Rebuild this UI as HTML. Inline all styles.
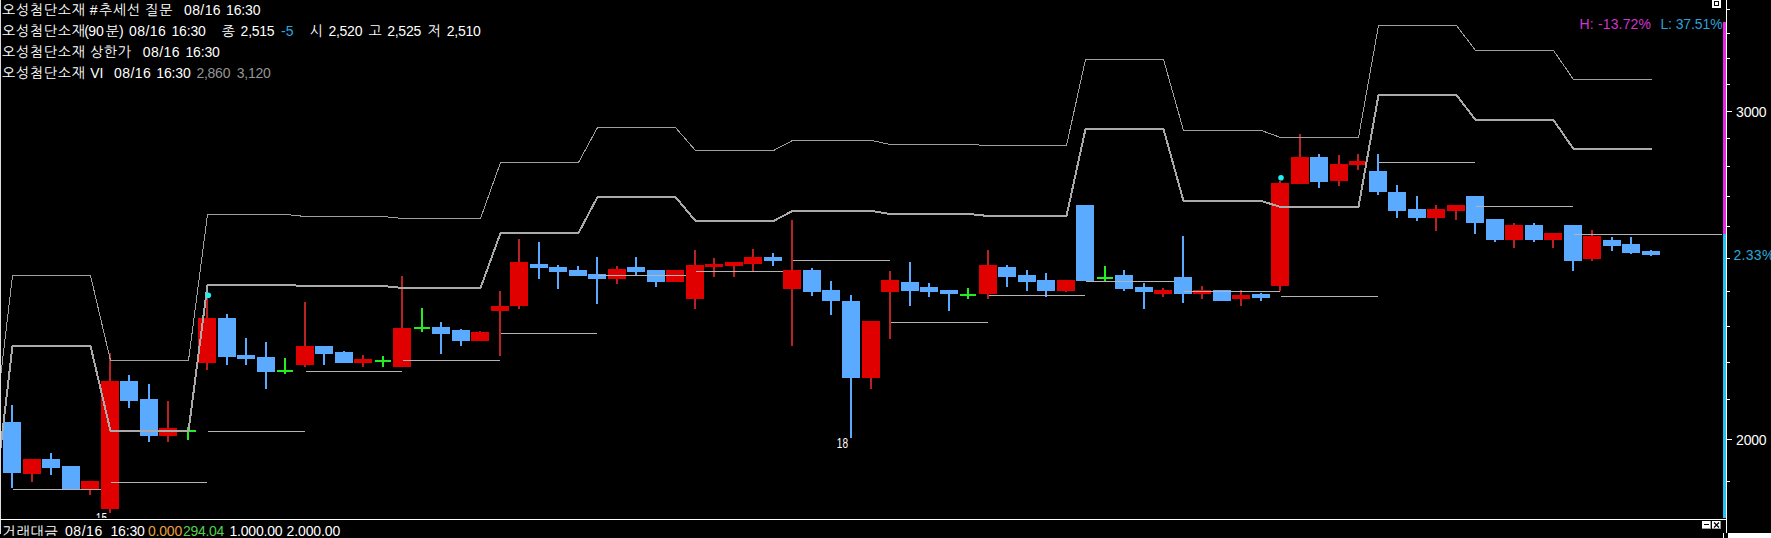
<!DOCTYPE html>
<html lang="ko"><head><meta charset="utf-8"><title>chart</title>
<style>
html,body{margin:0;padding:0;background:#000;}
body{width:1771px;height:538px;overflow:hidden;position:relative;font-family:"Liberation Sans","NanumGothic","Noto Sans CJK KR",sans-serif;}
#c{position:absolute;left:0;top:0;}
.t{position:absolute;white-space:pre;color:#fff;font-size:14px;line-height:21px;height:21px;}
.k{letter-spacing:-0.25px;}
.n{letter-spacing:0.35px;}
.g{color:#8c8c8c;}
.sm{position:absolute;color:#fff;font-size:14px;line-height:12px;white-space:pre;transform-origin:100% 0;transform:scaleX(0.72);text-align:right;}
#bot{position:absolute;left:0;top:520px;width:1700px;height:16px;overflow:hidden;}
</style></head><body>
<svg id="c" width="1771" height="538" viewBox="0 0 1771 538" shape-rendering="auto">
<rect x="0" y="0" width="1771" height="538" fill="#000"/>
<g shape-rendering="crispEdges">
</g>
<rect x="11" y="405" width="2" height="83" fill="#5aaaff"/>
<rect x="3" y="422" width="18" height="51" fill="#5aaaff"/>
<rect x="31" y="459" width="2" height="23" fill="#b82222"/>
<rect x="23" y="459" width="18" height="15" fill="#e00000"/>
<rect x="50" y="453" width="2" height="22" fill="#5aaaff"/>
<rect x="42" y="459" width="18" height="9" fill="#5aaaff"/>
<rect x="70" y="466" width="2" height="23" fill="#5aaaff"/>
<rect x="62" y="466" width="18" height="23" fill="#5aaaff"/>
<rect x="89" y="481" width="2" height="14" fill="#b82222"/>
<rect x="81" y="481" width="18" height="8" fill="#e00000"/>
<rect x="13" y="489" width="97" height="1" fill="#b4b4b4"/>
<rect x="109" y="353" width="2" height="160" fill="#b82222"/>
<rect x="101" y="381" width="18" height="128" fill="#e00000"/>
<rect x="128" y="375" width="2" height="33" fill="#5aaaff"/>
<rect x="120" y="381" width="18" height="20" fill="#5aaaff"/>
<rect x="148" y="384" width="2" height="58" fill="#5aaaff"/>
<rect x="140" y="399" width="18" height="37" fill="#5aaaff"/>
<rect x="167" y="401" width="2" height="41" fill="#b82222"/>
<rect x="159" y="428" width="18" height="8" fill="#e00000"/>
<rect x="187" y="427" width="2" height="13" fill="#22ee22"/>
<rect x="180" y="430" width="16" height="2" fill="#22ee22"/>
<rect x="111" y="482" width="96" height="1" fill="#b4b4b4"/>
<rect x="206" y="298" width="2" height="72" fill="#b82222"/>
<rect x="198" y="318" width="18" height="45" fill="#e00000"/>
<rect x="226" y="314" width="2" height="51" fill="#5aaaff"/>
<rect x="218" y="318" width="18" height="39" fill="#5aaaff"/>
<rect x="245" y="338" width="2" height="27" fill="#5aaaff"/>
<rect x="237" y="355" width="18" height="4" fill="#5aaaff"/>
<rect x="265" y="342" width="2" height="47" fill="#5aaaff"/>
<rect x="257" y="357" width="18" height="15" fill="#5aaaff"/>
<rect x="284" y="358" width="2" height="16" fill="#22ee22"/>
<rect x="277" y="370" width="16" height="2" fill="#22ee22"/>
<rect x="208" y="431" width="97" height="1" fill="#b4b4b4"/>
<rect x="304" y="302" width="2" height="65" fill="#b82222"/>
<rect x="296" y="346" width="18" height="19" fill="#e00000"/>
<rect x="323" y="346" width="2" height="19" fill="#5aaaff"/>
<rect x="315" y="346" width="18" height="8" fill="#5aaaff"/>
<rect x="343" y="351" width="2" height="12" fill="#5aaaff"/>
<rect x="335" y="352" width="18" height="11" fill="#5aaaff"/>
<rect x="362" y="355" width="2" height="12" fill="#b82222"/>
<rect x="354" y="359" width="18" height="4" fill="#e00000"/>
<rect x="382" y="356" width="2" height="11" fill="#22ee22"/>
<rect x="375" y="360" width="16" height="2" fill="#22ee22"/>
<rect x="306" y="371" width="96" height="1" fill="#b4b4b4"/>
<rect x="401" y="276" width="2" height="91" fill="#b82222"/>
<rect x="393" y="328" width="18" height="39" fill="#e00000"/>
<rect x="421" y="308" width="2" height="24" fill="#22ee22"/>
<rect x="414" y="327" width="16" height="2" fill="#22ee22"/>
<rect x="440" y="322" width="2" height="32" fill="#5aaaff"/>
<rect x="432" y="327" width="18" height="7" fill="#5aaaff"/>
<rect x="460" y="329" width="2" height="17" fill="#5aaaff"/>
<rect x="452" y="330" width="18" height="11" fill="#5aaaff"/>
<rect x="479" y="331" width="2" height="10" fill="#b82222"/>
<rect x="471" y="332" width="18" height="9" fill="#e00000"/>
<rect x="403" y="360" width="97" height="1" fill="#b4b4b4"/>
<rect x="499" y="291" width="2" height="65" fill="#b82222"/>
<rect x="491" y="306" width="18" height="5" fill="#e00000"/>
<rect x="518" y="239" width="2" height="70" fill="#b82222"/>
<rect x="510" y="262" width="18" height="44" fill="#e00000"/>
<rect x="538" y="242" width="2" height="37" fill="#5aaaff"/>
<rect x="530" y="264" width="18" height="4" fill="#5aaaff"/>
<rect x="557" y="265" width="2" height="24" fill="#5aaaff"/>
<rect x="549" y="267" width="18" height="5" fill="#5aaaff"/>
<rect x="577" y="266" width="2" height="10" fill="#5aaaff"/>
<rect x="569" y="270" width="18" height="6" fill="#5aaaff"/>
<rect x="501" y="333" width="96" height="1" fill="#b4b4b4"/>
<rect x="596" y="257" width="2" height="47" fill="#5aaaff"/>
<rect x="588" y="274" width="18" height="5" fill="#5aaaff"/>
<rect x="616" y="266" width="2" height="18" fill="#b82222"/>
<rect x="608" y="269" width="18" height="10" fill="#e00000"/>
<rect x="635" y="257" width="2" height="19" fill="#5aaaff"/>
<rect x="627" y="267" width="18" height="5" fill="#5aaaff"/>
<rect x="655" y="270" width="2" height="17" fill="#5aaaff"/>
<rect x="647" y="270" width="18" height="12" fill="#5aaaff"/>
<rect x="674" y="270" width="2" height="12" fill="#b82222"/>
<rect x="666" y="270" width="18" height="12" fill="#e00000"/>
<rect x="598" y="275" width="97" height="1" fill="#b4b4b4"/>
<rect x="694" y="250" width="2" height="59" fill="#b82222"/>
<rect x="686" y="265" width="18" height="34" fill="#e00000"/>
<rect x="713" y="258" width="2" height="19" fill="#b82222"/>
<rect x="705" y="264" width="18" height="3" fill="#e00000"/>
<rect x="733" y="262" width="2" height="15" fill="#b82222"/>
<rect x="725" y="262" width="18" height="4" fill="#e00000"/>
<rect x="752" y="249" width="2" height="23" fill="#b82222"/>
<rect x="744" y="257" width="18" height="7" fill="#e00000"/>
<rect x="772" y="253" width="2" height="13" fill="#5aaaff"/>
<rect x="764" y="257" width="18" height="4" fill="#5aaaff"/>
<rect x="696" y="271" width="96" height="1" fill="#b4b4b4"/>
<rect x="791" y="220" width="2" height="126" fill="#b82222"/>
<rect x="783" y="270" width="18" height="19" fill="#e00000"/>
<rect x="811" y="268" width="2" height="28" fill="#5aaaff"/>
<rect x="803" y="270" width="18" height="22" fill="#5aaaff"/>
<rect x="830" y="281" width="2" height="34" fill="#5aaaff"/>
<rect x="822" y="290" width="18" height="11" fill="#5aaaff"/>
<rect x="850" y="295" width="2" height="143" fill="#5aaaff"/>
<rect x="842" y="301" width="18" height="77" fill="#5aaaff"/>
<rect x="870" y="321" width="2" height="68" fill="#b82222"/>
<rect x="862" y="321" width="18" height="57" fill="#e00000"/>
<rect x="793" y="260" width="97" height="1" fill="#b4b4b4"/>
<rect x="889" y="271" width="2" height="68" fill="#b82222"/>
<rect x="881" y="280" width="18" height="12" fill="#e00000"/>
<rect x="909" y="262" width="2" height="44" fill="#5aaaff"/>
<rect x="901" y="282" width="18" height="9" fill="#5aaaff"/>
<rect x="928" y="283" width="2" height="14" fill="#5aaaff"/>
<rect x="920" y="287" width="18" height="5" fill="#5aaaff"/>
<rect x="948" y="290" width="2" height="21" fill="#5aaaff"/>
<rect x="940" y="290" width="18" height="4" fill="#5aaaff"/>
<rect x="967" y="288" width="2" height="11" fill="#22ee22"/>
<rect x="960" y="294" width="16" height="2" fill="#22ee22"/>
<rect x="891" y="322" width="97" height="1" fill="#b4b4b4"/>
<rect x="987" y="250" width="2" height="49" fill="#b82222"/>
<rect x="979" y="265" width="18" height="29" fill="#e00000"/>
<rect x="1006" y="265" width="2" height="22" fill="#5aaaff"/>
<rect x="998" y="267" width="18" height="10" fill="#5aaaff"/>
<rect x="1026" y="270" width="2" height="21" fill="#5aaaff"/>
<rect x="1018" y="275" width="18" height="7" fill="#5aaaff"/>
<rect x="1045" y="273" width="2" height="24" fill="#5aaaff"/>
<rect x="1037" y="280" width="18" height="11" fill="#5aaaff"/>
<rect x="1065" y="280" width="2" height="12" fill="#b82222"/>
<rect x="1057" y="280" width="18" height="11" fill="#e00000"/>
<rect x="989" y="295" width="96" height="1" fill="#b4b4b4"/>
<rect x="1084" y="205" width="2" height="76" fill="#5aaaff"/>
<rect x="1076" y="205" width="18" height="76" fill="#5aaaff"/>
<rect x="1104" y="266" width="2" height="15" fill="#22ee22"/>
<rect x="1097" y="277" width="16" height="2" fill="#22ee22"/>
<rect x="1123" y="270" width="2" height="21" fill="#5aaaff"/>
<rect x="1115" y="275" width="18" height="14" fill="#5aaaff"/>
<rect x="1143" y="283" width="2" height="26" fill="#5aaaff"/>
<rect x="1135" y="287" width="18" height="5" fill="#5aaaff"/>
<rect x="1162" y="288" width="2" height="9" fill="#b82222"/>
<rect x="1154" y="290" width="18" height="4" fill="#e00000"/>
<rect x="1086" y="281" width="97" height="1" fill="#b4b4b4"/>
<rect x="1182" y="236" width="2" height="67" fill="#5aaaff"/>
<rect x="1174" y="277" width="18" height="17" fill="#5aaaff"/>
<rect x="1201" y="286" width="2" height="13" fill="#b82222"/>
<rect x="1193" y="290" width="18" height="4" fill="#e00000"/>
<rect x="1221" y="290" width="2" height="11" fill="#5aaaff"/>
<rect x="1213" y="290" width="18" height="11" fill="#5aaaff"/>
<rect x="1240" y="290" width="2" height="16" fill="#b82222"/>
<rect x="1232" y="295" width="18" height="4" fill="#e00000"/>
<rect x="1260" y="293" width="2" height="8" fill="#5aaaff"/>
<rect x="1252" y="294" width="18" height="4" fill="#5aaaff"/>
<rect x="1184" y="291" width="96" height="1" fill="#b4b4b4"/>
<rect x="1279" y="181" width="2" height="110" fill="#b82222"/>
<rect x="1271" y="183" width="18" height="103" fill="#e00000"/>
<rect x="1299" y="134" width="2" height="50" fill="#b82222"/>
<rect x="1291" y="157" width="18" height="27" fill="#e00000"/>
<rect x="1318" y="154" width="2" height="34" fill="#5aaaff"/>
<rect x="1310" y="157" width="18" height="25" fill="#5aaaff"/>
<rect x="1338" y="155" width="2" height="31" fill="#b82222"/>
<rect x="1330" y="164" width="18" height="17" fill="#e00000"/>
<rect x="1357" y="154" width="2" height="16" fill="#b82222"/>
<rect x="1349" y="161" width="18" height="4" fill="#e00000"/>
<rect x="1281" y="296" width="97" height="1" fill="#b4b4b4"/>
<rect x="1377" y="154" width="2" height="41" fill="#5aaaff"/>
<rect x="1369" y="171" width="18" height="21" fill="#5aaaff"/>
<rect x="1396" y="185" width="2" height="33" fill="#5aaaff"/>
<rect x="1388" y="192" width="18" height="19" fill="#5aaaff"/>
<rect x="1416" y="196" width="2" height="25" fill="#5aaaff"/>
<rect x="1408" y="209" width="18" height="9" fill="#5aaaff"/>
<rect x="1435" y="205" width="2" height="26" fill="#b82222"/>
<rect x="1427" y="209" width="18" height="9" fill="#e00000"/>
<rect x="1455" y="205" width="2" height="15" fill="#b82222"/>
<rect x="1447" y="205" width="18" height="6" fill="#e00000"/>
<rect x="1379" y="162" width="96" height="1" fill="#b4b4b4"/>
<rect x="1474" y="196" width="2" height="38" fill="#5aaaff"/>
<rect x="1466" y="196" width="18" height="27" fill="#5aaaff"/>
<rect x="1494" y="219" width="2" height="23" fill="#5aaaff"/>
<rect x="1486" y="219" width="18" height="21" fill="#5aaaff"/>
<rect x="1513" y="223" width="2" height="25" fill="#b82222"/>
<rect x="1505" y="225" width="18" height="15" fill="#e00000"/>
<rect x="1533" y="223" width="2" height="19" fill="#5aaaff"/>
<rect x="1525" y="225" width="18" height="15" fill="#5aaaff"/>
<rect x="1552" y="233" width="2" height="15" fill="#b82222"/>
<rect x="1544" y="233" width="18" height="7" fill="#e00000"/>
<rect x="1476" y="206" width="97" height="1" fill="#b4b4b4"/>
<rect x="1572" y="225" width="2" height="46" fill="#5aaaff"/>
<rect x="1564" y="225" width="18" height="36" fill="#5aaaff"/>
<rect x="1591" y="230" width="2" height="31" fill="#b82222"/>
<rect x="1583" y="236" width="18" height="23" fill="#e00000"/>
<rect x="1611" y="237" width="2" height="14" fill="#5aaaff"/>
<rect x="1603" y="240" width="18" height="6" fill="#5aaaff"/>
<rect x="1630" y="237" width="2" height="17" fill="#5aaaff"/>
<rect x="1622" y="244" width="18" height="9" fill="#5aaaff"/>
<rect x="1650" y="250" width="2" height="6" fill="#5aaaff"/>
<rect x="1642" y="251" width="18" height="4" fill="#5aaaff"/>
<rect x="1574" y="234" width="148" height="1" fill="#b4b4b4"/>
<polyline points="-6.5,437.5 12.5,275.5 90.5,275.5 110.5,360.5 188.5,360.5 207.5,214.5 285.5,214.5 305.5,216.5 383.5,216.5 402.5,218.5 480.5,218.5 500.5,162.5 578.5,162.5 597.5,127.5 675.5,127.5 695.5,150.5 773.5,150.5 792.5,140.5 871.5,140.5 890.5,144.5 968.5,144.5 988.5,145.5 1066.5,145.5 1085.5,59.5 1163.5,59.5 1183.5,130.5 1261.5,130.5 1280.5,137.5 1358.5,137.5 1378.5,25.5 1456.5,25.5 1475.5,50.5 1553.5,50.5 1573.5,79.5 1651.5,79.5" fill="none" stroke="#a0a0a0" stroke-width="1" stroke-linejoin="miter" shape-rendering="crispEdges"/>
<polyline points="-6.5,508 12.5,346 90.5,346 110.5,431 188.5,431 207.5,285 285.5,285 305.5,286 383.5,286 402.5,288 480.5,288 500.5,233 578.5,233 597.5,197 675.5,197 695.5,221 773.5,221 792.5,211 871.5,211 890.5,214 968.5,214 988.5,216 1066.5,216 1085.5,129 1163.5,129 1183.5,201 1261.5,201 1280.5,207 1358.5,207 1378.5,95 1456.5,95 1475.5,120 1553.5,120 1573.5,149 1651.5,149" fill="none" stroke="#aaaaaa" stroke-width="2" stroke-linejoin="miter" shape-rendering="crispEdges"/>
<circle cx="208.3" cy="295.2" r="2.8" fill="#22eeee"/>
<circle cx="1281" cy="177.7" r="2.8" fill="#22eeee"/>
<g shape-rendering="crispEdges">
<rect x="0" y="0" width="1" height="534" fill="#dcdcdc"/>
<rect x="1723" y="22" width="3" height="212" fill="#e628e6"/>
<rect x="1723" y="234" width="3" height="284" fill="#28bef0"/>
<rect x="1726" y="0" width="1" height="533" fill="#fff"/>
<rect x="1727" y="481" width="3" height="1" fill="#fff"/>
<rect x="1727" y="439" width="5" height="1" fill="#fff"/>
<rect x="1727" y="399" width="3" height="1" fill="#fff"/>
<rect x="1727" y="362" width="3" height="1" fill="#fff"/>
<rect x="1727" y="326" width="3" height="1" fill="#fff"/>
<rect x="1727" y="291" width="3" height="1" fill="#fff"/>
<rect x="1727" y="258" width="3" height="1" fill="#fff"/>
<rect x="1727" y="226" width="3" height="1" fill="#fff"/>
<rect x="1727" y="196" width="3" height="1" fill="#fff"/>
<rect x="1727" y="166" width="3" height="1" fill="#fff"/>
<rect x="1727" y="138" width="3" height="1" fill="#fff"/>
<rect x="1727" y="111" width="5" height="1" fill="#fff"/>
<rect x="1727" y="84" width="3" height="1" fill="#fff"/>
<rect x="1727" y="58" width="3" height="1" fill="#fff"/>
<rect x="1727" y="33" width="3" height="1" fill="#fff"/>
<rect x="1727" y="9" width="3" height="1" fill="#fff"/>
<rect x="0" y="519" width="1727" height="1" fill="#fff"/>
<rect x="1728" y="533" width="43" height="5" fill="#fff"/>
<rect x="1723" y="533" width="1" height="5" fill="#fff"/>
<!-- top-right box icon -->
<rect x="1712" y="0" width="9" height="8" fill="#fff"/>
<rect x="1714" y="1" width="5" height="5" fill="#000"/>
<rect x="1715" y="2" width="3" height="3" fill="#fff"/>
<!-- min / close buttons -->
<rect x="1702" y="521" width="9" height="8" fill="#fff"/>
<rect x="1712" y="521" width="9" height="8" fill="#fff"/>
<rect x="1710" y="521" width="1" height="8" fill="#999"/><rect x="1702" y="528" width="9" height="1" fill="#999"/><rect x="1720" y="521" width="1" height="8" fill="#999"/><rect x="1712" y="528" width="9" height="1" fill="#999"/>
<rect x="1704" y="524" width="5" height="1" fill="#000"/>
</g>
<path d="M1714 522.5 L1719 527.5 M1719 522.5 L1714 527.5" stroke="#000" stroke-width="1.3" fill="none"/>
</svg>

<div class="t" style="left:2.0px;top:0px;letter-spacing:0.80px;">오성첨단소재</div>
<div class="t" style="left:2.0px;top:21px;letter-spacing:0.80px;">오성첨단소재</div>
<div class="t" style="left:2.0px;top:42px;letter-spacing:0.80px;">오성첨단소재</div>
<div class="t" style="left:2.0px;top:63px;letter-spacing:0.80px;">오성첨단소재</div>
<div class="t" style="left:89.8px;top:0px;">#</div>
<div class="t" style="left:99.0px;top:0px;letter-spacing:0.80px;">추세선</div>
<div class="t" style="left:145.2px;top:0px;letter-spacing:0.80px;">질문</div>
<div class="t" style="left:184.0px;top:0px;letter-spacing:0.40px;">08/16</div>
<div class="t" style="left:226.1px;top:0px;letter-spacing:-0.15px;">16:30</div>
<div class="t" style="left:84.2px;top:21px;">(</div>
<div class="t" style="left:88.3px;top:21px;">90</div>
<div class="t" style="left:105.8px;top:21px;letter-spacing:0.80px;">분</div>
<div class="t" style="left:119.1px;top:21px;">)</div>
<div class="t" style="left:129.1px;top:21px;letter-spacing:0.40px;">08/16</div>
<div class="t" style="left:171.4px;top:21px;letter-spacing:-0.15px;">16:30</div>
<div class="t" style="left:221.8px;top:21px;letter-spacing:0.80px;">종</div>
<div class="t" style="left:240.6px;top:21px;letter-spacing:-0.25px;">2,515</div>
<div class="t" style="left:281.1px;top:21px;color:#2aa8e0;">-5</div>
<div class="t" style="left:309.8px;top:21px;letter-spacing:0.80px;">시</div>
<div class="t" style="left:328.4px;top:21px;letter-spacing:-0.25px;">2,520</div>
<div class="t" style="left:368.6px;top:21px;letter-spacing:0.80px;">고</div>
<div class="t" style="left:387.2px;top:21px;letter-spacing:-0.25px;">2,525</div>
<div class="t" style="left:427.8px;top:21px;letter-spacing:0.80px;">저</div>
<div class="t" style="left:446.8px;top:21px;letter-spacing:-0.25px;">2,510</div>
<div class="t" style="left:89.9px;top:42px;letter-spacing:0.80px;">상한가</div>
<div class="t" style="left:142.8px;top:42px;letter-spacing:0.40px;">08/16</div>
<div class="t" style="left:185.4px;top:42px;letter-spacing:-0.15px;">16:30</div>
<div class="t" style="left:90.2px;top:63px;">VI</div>
<div class="t" style="left:114.1px;top:63px;letter-spacing:0.40px;">08/16</div>
<div class="t" style="left:156.3px;top:63px;letter-spacing:-0.15px;">16:30</div>
<div class="t" style="left:196.4px;top:63px;letter-spacing:-0.25px;color:#949494;">2,860</div>
<div class="t" style="left:236.8px;top:63px;letter-spacing:-0.25px;color:#949494;">3,120</div>
<div class="t" style="left:1579.6px;top:14px;letter-spacing:0.15px;color:#d035d0;">H: -13.72%</div>
<div class="t" style="left:1660.4px;top:14px;letter-spacing:-0.10px;color:#2aa0dc;">L: 37.51%</div>
<div class="t" style="left:1736.1px;top:102.2px;letter-spacing:-0.20px;">3000</div>
<div class="t" style="left:1736.1px;top:430.2px;letter-spacing:-0.20px;">2000</div>
<div class="t" style="left:1733.5px;top:245px;letter-spacing:0.3px;color:#29abd6">2.33%</div>

<div class="sm" style="left:67px;width:40px;top:512px;height:6px;overflow:hidden">15</div>
<div class="sm" style="left:808px;width:40px;top:437px;">18</div>

<div id="bot">
<div class="t" style="left:2.5px;top:1.5px;letter-spacing:0.8px">거래대금</div>
<div class="t" style="left:65px;top:1px;letter-spacing:0.55px">08/16</div>
<div class="t" style="left:110.4px;top:1px;letter-spacing:-0.15px">16:30</div>
<div class="t" style="left:148px;top:1px;letter-spacing:-0.2px;color:#e8a040">0,000</div>
<div class="t" style="left:183px;top:1px;letter-spacing:-0.3px;color:#50d050">294,04</div>
<div class="t" style="left:229.5px;top:1px;letter-spacing:-0.2px">1,000,00</div>
<div class="t" style="left:286.5px;top:1px;letter-spacing:-0.1px">2,000,00</div>
</div>
</body></html>
